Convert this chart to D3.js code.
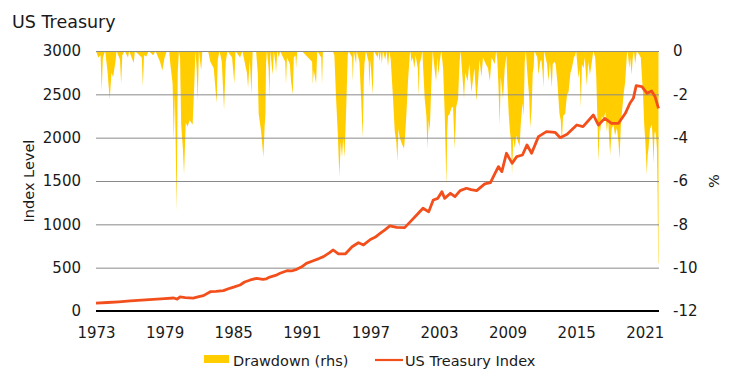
<!DOCTYPE html>
<html>
<head>
<meta charset="utf-8">
<script src="https://cdn.jsdelivr.net/npm/d3@7"></script>
<style>
  body { margin: 0; background: #fff; }
  svg { display: block; font-family: "DejaVu Sans", sans-serif; }
</style>
</head>
<body>
<div id="chart"></div>
<script>
// tick labels
const yearTicks = [1973, 1979, 1985, 1991, 1997, 2003, 2009, 2015, 2021];
const leftTicks = [0, 500, 1000, 1500, 2000, 2500, 3000];
const rightTicks = [0, -2, -4, -6, -8, -10, -12];

// US Treasury index level
const indexYears = [1973.0,1974.0,1975.0,1976.0,1977.0,1978.0,1979.0,1979.8,1980.1,1980.35,1980.8,1981.5,1982.0,1982.4,1983.0,1983.5,1984.15,1984.7,1985.1,1985.6,1986.0,1986.5,1987.05,1987.6,1987.9,1988.2,1988.7,1989.1,1989.7,1990.1,1990.55,1991.0,1991.4,1992.0,1992.5,1992.9,1993.4,1993.75,1994.2,1994.8,1995.4,1995.95,1996.4,1997.0,1997.4,1997.85,1998.3,1998.7,1999.3,2000.0,2000.5,2001.05,2001.6,2002.1,2002.5,2002.9,2003.25,2003.5,2004.0,2004.4,2004.85,2005.4,2005.8,2006.3,2007.0,2007.5,2007.9,2008.2,2008.5,2008.9,2009.4,2009.8,2010.3,2010.7,2011.1,2011.7,2012.4,2013.15,2013.6,2014.2,2015.05,2015.6,2016.5,2016.95,2017.5,2018.1,2018.7,2019.3,2019.7,2020.0,2020.25,2020.75,2021.2,2021.6,2021.9,2022.2];
const indexLevel = [90,98,106,116,126,133,142,150,138,162,155,148,165,177,223,226,235,262,278,300,335,358,377,365,372,392,410,435,465,462,481,510,550,580,605,627,670,704,658,658,742,788,762,825,850,896,940,981,966,962,1031,1108,1185,1146,1281,1300,1377,1300,1358,1319,1389,1416,1400,1389,1466,1481,1589,1666,1608,1820,1704,1781,1800,1916,1820,2012,2070,2062,2000,2039,2146,2127,2262,2146,2223,2166,2166,2281,2397,2454,2600,2589,2512,2539,2473,2339];

// drawdown in % [year, value]
const drawdown = [
  [1973.0,0],[1973.2,-0.3],[1973.4,-0.2],[1973.5,-1.86],[1973.6,-0.3],[1973.8,0],[1974.0,-0.9],[1974.2,-2.25],[1974.35,-1.0],[1974.5,-1.2],[1974.7,-0.5],[1974.8,0],
  [1975.1,-0.4],[1975.2,-1.55],[1975.3,-0.2],[1975.5,0],[1975.8,-0.3],[1975.9,0],[1976.3,-0.55],[1976.4,0],[1977.0,-0.3],[1977.1,-1.63],[1977.2,-0.2],[1977.4,-0.25],[1977.6,0],
  [1978.0,-0.2],[1978.2,0],[1978.6,-0.5],[1978.8,-0.9],[1979.0,-0.3],[1979.2,0],[1979.4,0],[1979.5,-0.6],[1979.7,-1.5],[1979.8,-4.17],[1979.9,-2.0],[1980.06,-7.4],[1980.15,-1.0],[1980.25,0],
  [1980.35,-0.3],[1980.45,-3.4],[1980.6,-4.5],[1980.7,-5.7],[1980.85,-3.3],[1981.0,-3.5],[1981.2,-3.2],[1981.45,-3.4],[1981.6,-1.5],[1981.7,0],[1981.8,-0.8],[1981.9,-2.3],[1982.0,0],
  [1982.2,-0.9],[1982.3,0],[1982.8,0],[1983.0,-0.5],[1983.3,-0.8],[1983.55,-2.4],[1983.65,-0.4],[1983.8,0],[1984.0,-0.5],[1984.2,-2.7],[1984.35,-0.5],[1984.5,0],[1984.9,-0.3],[1985.1,-1.5],[1985.2,0],
  [1985.6,-0.3],[1985.8,0],[1986.2,-1.0],[1986.3,-1.7],[1986.45,-0.4],[1986.6,-2.0],[1986.7,0],[1987.0,0],[1987.15,-1.0],[1987.23,-2.9],[1987.44,-3.7],[1987.64,-4.9],[1987.75,-3.5],[1987.82,-2.9],[1987.87,-0.6],[1987.95,0],
  [1988.1,-0.8],[1988.17,-2.2],[1988.25,0],[1988.4,-0.8],[1988.46,-1.1],[1988.55,0],[1988.7,-0.6],[1988.75,-1.0],[1988.85,0],[1989.0,-0.3],[1989.1,0],[1989.55,-0.5],[1989.62,-1.55],[1989.7,-0.3],
  [1989.95,-0.6],[1990.06,-1.4],[1990.21,-2.0],[1990.3,-0.3],[1990.45,-0.2],[1990.5,-0.8],[1990.6,0],[1991.0,0],[1991.9,-0.5],[1991.96,-1.55],[1992.05,-0.9],[1992.25,-1.5],[1992.35,0],[1992.7,-0.3],[1992.77,-1.55],[1992.85,0],
  [1993.7,0],[1993.85,-0.2],[1994.0,-2.2],[1994.14,-3.7],[1994.29,-5.8],[1994.4,-4.2],[1994.52,-4.9],[1994.62,-4.0],[1994.73,-4.9],[1994.87,-2.9],[1995.02,-0.2],[1995.1,0],[1995.4,-0.3],[1995.46,-1.4],[1995.55,0],
  [1995.75,-0.6],[1995.8,0],[1996.04,-0.5],[1996.19,-2.2],[1996.33,-4.0],[1996.42,-1.4],[1996.48,-0.6],[1996.6,0],[1996.85,-0.5],[1996.91,-1.7],[1997.0,-0.4],[1997.21,-2.0],[1997.3,0],[1997.64,-0.3],[1997.7,0],
  [1997.8,-0.5],[1997.9,0],[1998.0,-0.6],[1998.1,0],[1998.3,-0.4],[1998.4,0],[1998.55,-0.7],[1998.65,0],[1998.78,-0.4],[1998.98,-2.2],[1999.13,-3.7],[1999.27,-4.2],[1999.36,-5.1],[1999.45,-3.6],[1999.57,-4.0],[1999.77,-4.3],[1999.94,-4.5],
  [2000.05,-3.8],[2000.15,-2.9],[2000.29,-1.4],[2000.44,-0.2],[2000.5,0],[2000.59,-0.5],[2000.7,-0.3],[2000.85,-0.8],[2000.95,-0.2],[2001.15,-0.8],[2001.23,-2.1],[2001.3,-0.6],[2001.45,-0.3],[2001.55,0],
  [2001.6,-0.6],[2001.75,-2.2],[2001.9,-3.0],[2001.99,-4.5],[2002.1,-3.2],[2002.19,-3.7],[2002.34,-1.4],[2002.45,0],[2002.63,-0.9],[2002.75,-1.4],[2002.85,-0.3],[2002.95,-1.1],[2003.06,-0.5],[2003.2,0],
  [2003.36,-0.8],[2003.5,-2.9],[2003.65,-6.2],[2003.72,-3.7],[2003.79,-3.0],[2003.94,-2.9],[2004.1,-2.6],[2004.23,-2.6],[2004.38,-4.5],[2004.5,-2.6],[2004.67,-2.2],[2004.8,-0.5],[2004.9,0],
  [2005.0,-0.8],[2005.19,-2.2],[2005.3,-1.0],[2005.5,-1.4],[2005.65,-0.6],[2005.84,-1.9],[2006.0,-1.2],[2006.1,-0.8],[2006.27,-2.3],[2006.42,-1.4],[2006.55,-0.4],[2006.71,-1.2],[2006.85,-0.3],
  [2007.0,-0.5],[2007.29,-0.8],[2007.45,-1.4],[2007.6,-0.3],[2007.88,-0.6],[2008.0,0],[2008.1,-0.4],[2008.2,-1.6],[2008.31,-3.4],[2008.4,-1.2],[2008.6,-2.2],[2008.75,-0.8],[2008.9,-0.2],
  [2008.98,-1.5],[2009.1,-2.9],[2009.19,-3.6],[2009.3,-4.2],[2009.39,-5.7],[2009.5,-4.0],[2009.63,-4.5],[2009.75,-3.9],[2009.92,-4.2],[2010.05,-4.4],[2010.15,-3.4],[2010.3,-2.4],[2010.4,-3.0],[2010.5,-0.5],[2010.6,0],
  [2010.75,-1.2],[2010.9,-2.2],[2010.97,-3.55],[2011.1,-2.7],[2011.2,-1.0],[2011.27,-0.8],[2011.35,0],[2011.6,-0.3],[2011.7,-1.1],[2011.85,-0.5],[2011.95,-0.4],[2012.05,-0.9],[2012.14,-1.7],[2012.2,0],
  [2012.45,-0.6],[2012.58,-1.4],[2012.7,-0.5],[2012.87,-1.7],[2012.95,-0.6],[2013.1,-0.5],[2013.2,-0.6],[2013.35,-1.4],[2013.54,-2.9],[2013.65,-3.2],[2013.75,-4.2],[2013.85,-3.0],[2014.04,-2.9],
  [2014.2,-2.0],[2014.33,-1.9],[2014.5,-1.0],[2014.62,-0.8],[2014.8,-0.3],[2014.91,-0.2],[2015.0,0],[2015.2,-1.25],[2015.3,-0.8],[2015.41,-2.6],[2015.5,-0.6],[2015.64,-0.8],[2015.75,-0.3],[2015.93,-1.6],
  [2016.05,-0.5],[2016.2,-1.1],[2016.37,-0.5],[2016.5,0],[2016.66,-0.3],[2016.75,-1.1],[2016.85,-3.0],[2016.95,-5.1],[2017.05,-3.5],[2017.1,-3.7],[2017.25,-3.0],[2017.39,-3.2],[2017.55,-2.8],[2017.68,-3.7],
  [2017.8,-3.2],[2017.97,-4.8],[2018.1,-3.6],[2018.26,-3.4],[2018.4,-3.9],[2018.56,-3.55],[2018.7,-4.2],[2018.79,-5.0],[2018.9,-3.5],[2018.99,-2.9],[2019.15,-2.0],[2019.29,-1.4],[2019.43,-0.2],[2019.5,0],
  [2019.65,-0.8],[2019.72,-0.3],[2019.85,-1.1],[2019.95,-0.3],[2020.05,0],[2020.16,-0.6],[2020.3,0],[2020.54,-0.2],[2020.65,-0.3],[2020.74,-1.1],[2020.85,-2.0],[2020.95,-3.4],[2021.05,-4.2],[2021.18,-5.7],
  [2021.25,-4.8],[2021.33,-4.5],[2021.45,-3.6],[2021.62,-3.4],[2021.7,-4.2],[2021.76,-5.2],[2021.85,-3.8],[2021.91,-3.7],[2022.0,-4.0],[2022.06,-4.5],[2022.12,-6.5],[2022.17,-9.8],[2022.2,-9.8]
];

const width = 740, height = 381;
const mLeft = 96, mRight = 659, mTop = 51, mBottom = 311;

const x = d3.scaleLinear().domain([1973, 2022.2]).range([mLeft, mRight - 0.5]);
const yL = d3.scaleLinear().domain([0, 3000]).range([mBottom, mTop]);
const yR = d3.scaleLinear().domain([-12, 0]).range([mBottom, mTop]);

const svg = d3.select("#chart").append("svg")
  .attr("width", width)
  .attr("height", height);

svg.append("text")
  .attr("x", 12).attr("y", 28)
  .attr("font-size", "17.5px")
  .attr("fill", "#1a1a1a")
  .text("US Treasury");

// drawdown area hangs from the top
const area = d3.area()
  .x(d => x(d[0]))
  .y0(yR(0))
  .y1(d => yR(d[1]));

svg.append("path")
  .datum(drawdown)
  .attr("fill", "#FFCD00")
  .attr("d", area);

// gridlines
svg.append("g")
  .selectAll("line")
  .data(leftTicks.filter(d => d > 0))
  .enter().append("line")
  .attr("x1", mLeft).attr("x2", mRight)
  .attr("y1", d => yL(d) + 0.5).attr("y2", d => yL(d) + 0.5)
  .attr("stroke", "#8a8a8a")
  .attr("stroke-width", 1);

// baseline
svg.append("line")
  .attr("x1", mLeft).attr("x2", mRight)
  .attr("y1", mBottom).attr("y2", mBottom)
  .attr("stroke", "#000")
  .attr("stroke-width", 2.2);

const line = d3.line()
  .x((d, i) => x(indexYears[i]))
  .y(d => yL(d));

svg.append("path")
  .datum(indexLevel)
  .attr("fill", "none")
  .attr("stroke", "#F24F1D")
  .attr("stroke-width", 2.8)
  .attr("stroke-linejoin", "round")
  .attr("d", line);

// axes
const axisLeft = svg.append("g")
  .attr("transform", `translate(${mLeft},0)`)
  .call(d3.axisLeft(yL).tickValues(leftTicks).tickSize(0).tickPadding(15).tickFormat(d3.format("d")));
const axisRight = svg.append("g")
  .attr("transform", `translate(${mRight},0)`)
  .call(d3.axisRight(yR).tickValues(rightTicks).tickSize(0).tickPadding(14)
    .tickFormat(d => d === 0 ? "0" : "-" + Math.abs(d)));
const axisBottom = svg.append("g")
  .attr("transform", `translate(0,${mBottom})`)
  .call(d3.axisBottom(x).tickValues(yearTicks).tickSize(0).tickPadding(16).tickFormat(d3.format("d")));

[axisLeft, axisRight, axisBottom].forEach(a => {
  a.select(".domain").remove();
  a.selectAll("text")
    .attr("font-family", "DejaVu Sans, sans-serif")
    .attr("font-size", "15px")
    .attr("fill", "#1a1a1a");
});

svg.append("text")
  .attr("transform", "translate(34,181) rotate(-90)")
  .attr("text-anchor", "middle")
  .attr("font-size", "14.5px")
  .attr("fill", "#1a1a1a")
  .text("Index Level");

svg.append("text")
  .attr("transform", "translate(719,181) rotate(-90)")
  .attr("text-anchor", "middle")
  .attr("font-size", "14.5px")
  .attr("fill", "#1a1a1a")
  .text("%");

// legend
svg.append("rect")
  .attr("x", 204).attr("y", 355)
  .attr("width", 25).attr("height", 8)
  .attr("fill", "#FFCD00");
svg.append("text")
  .attr("x", 233).attr("y", 365.5)
  .attr("font-size", "14.5px")
  .attr("fill", "#1a1a1a")
  .text("Drawdown (rhs)");
svg.append("line")
  .attr("x1", 375).attr("x2", 403)
  .attr("y1", 360).attr("y2", 360)
  .attr("stroke", "#F24F1D")
  .attr("stroke-width", 2.2);
svg.append("text")
  .attr("x", 405).attr("y", 365.5)
  .attr("font-size", "14.5px")
  .attr("fill", "#1a1a1a")
  .text("US Treasury Index");
</script>
</body>
</html>
